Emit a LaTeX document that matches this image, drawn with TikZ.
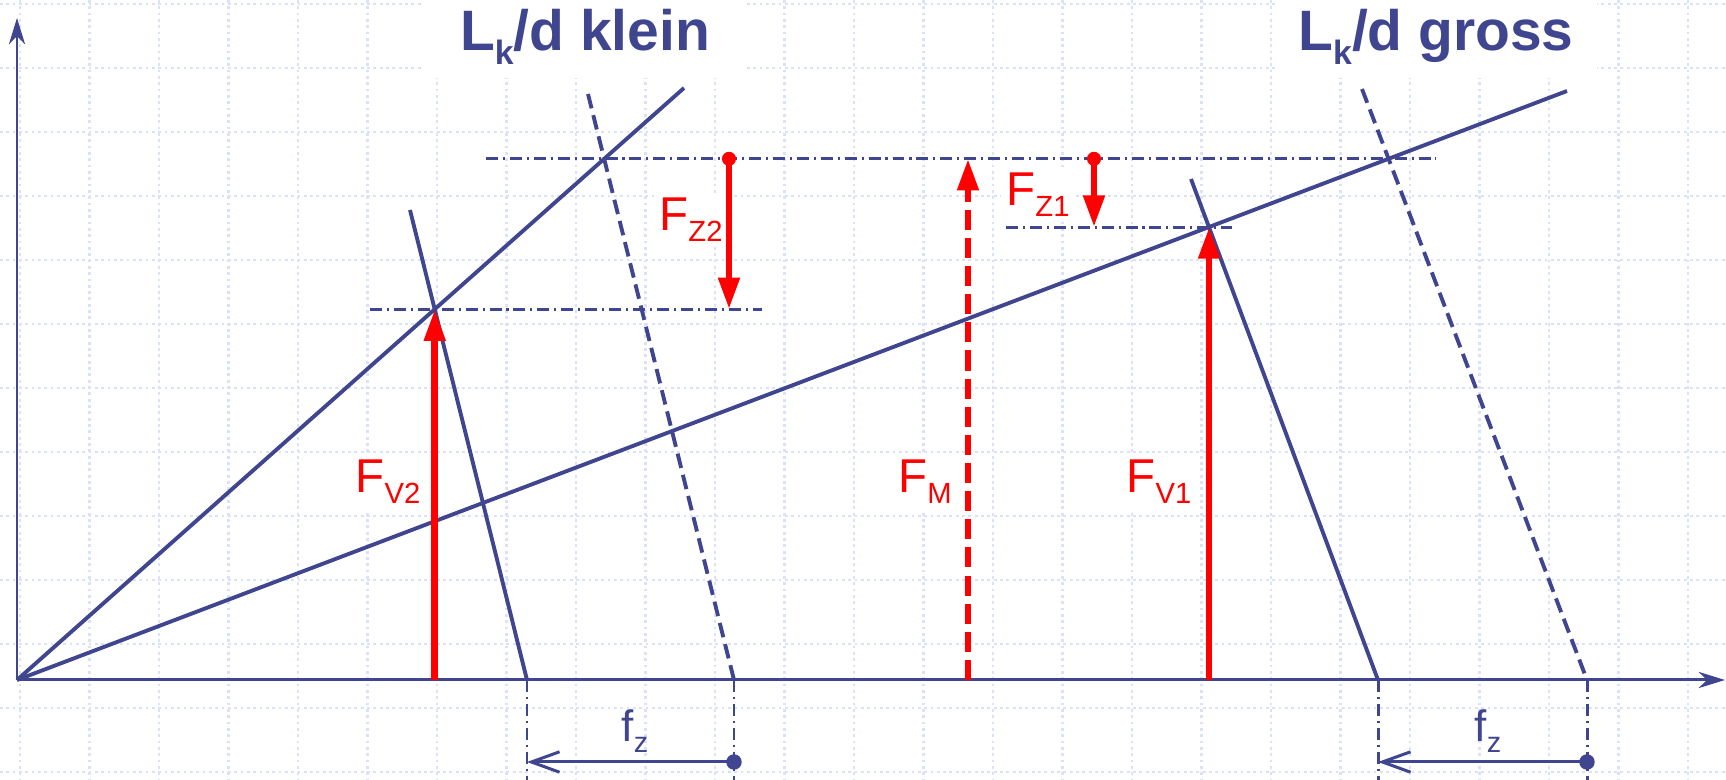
\documentclass[tikz,border=0pt]{standalone}
\usepackage{fontspec}
\setmainfont{Liberation Sans}
\usetikzlibrary{arrows.meta}
\definecolor{ink}{HTML}{40458F}
\definecolor{fred}{HTML}{FF0000}
\definecolor{gridcol}{HTML}{D9E2FA}
\newcommand{\fsub}[2]{#1\raisebox{-3.1pt}{\fontsize{8.3}{10}\selectfont #2}}
\newcommand{\fzsub}[2]{#1\raisebox{-2.85pt}{\fontsize{8.2}{10}\selectfont #2}}
\newcommand{\ksub}{\raisebox{-3.8pt}{\fontsize{9.6}{11}\selectfont k}}

\begin{document}
\begin{tikzpicture}[x=0.01cm,y=-0.01cm,>=Stealth]
 \tikzstyle{gridline}=[gridcol,line width=0.8pt,densely dotted]
 \tikzstyle{axis}=[ink,line width=0.85pt,-{Stealth[length=7.5pt,width=4.6pt,inset=2.4pt]}]
 \tikzstyle{kline}=[ink,line width=1.1pt]
 \tikzstyle{kdash}=[kline,dash pattern=on 4.2pt off 2pt]
 \tikzstyle{levelline}=[ink,line width=0.85pt,dash pattern=on 3.4pt off 1.4pt on 0.6pt off 1.4pt]
 \tikzstyle{forcearrow}=[fred,line width=1.9pt,-{Triangle[length=9pt,width=5.8pt]}]
 \tikzstyle{shiftarrow}=[ink,line width=0.85pt,-{Straight Barb[length=8pt,width=5.8pt]}]
 \tikzstyle{heading}=[anchor=base,fill=white,text=ink,font=\fontsize{16.2}{19}\selectfont\bfseries,minimum width=3.22cm,inner ysep=4pt]
 \tikzstyle{forcelbl}=[anchor=base,fill=white,text=fred,font=\fontsize{13.5}{16}\selectfont,inner sep=1.5pt]
 \tikzstyle{shiftlbl}=[anchor=base,text=ink,font=\fontsize{12.5}{15}\selectfont,inner sep=0pt]
 \fill[white] (0,0) rectangle (1726,780);
 \useasboundingbox (0,0) rectangle (1726,780);
 \foreach \i in {0,...,24} \draw[gridline] ({20+69.5*\i},0) -- ({20+69.5*\i},780);
 \foreach \j in {0,...,12} \draw[gridline] (0,{4+64*\j}) -- (1726,{4+64*\j});
 \coordinate (O) at (17,680);
 \coordinate (ytip) at (17,18);
 \coordinate (xtip) at (1725,680);
 \coordinate (kend) at (684,88);
 \coordinate (gend) at (1567,91);
 \coordinate (ksolT) at (410,210);
 \coordinate (ksolB) at (527,680);
 \coordinate (kdashT) at (588,94);
 \coordinate (kdashB) at (734,680);
 \coordinate (gsolT) at (1191,179);
 \coordinate (gsolB) at (1378,680);
 \coordinate (gdashT) at (1362,89);
 \coordinate (gdashB) at (1587,680);
 \coordinate (v2) at (intersection of O--kend and ksolT--ksolB);
 \coordinate (v1) at (intersection of O--gend and gsolT--gsolB);
 \coordinate (m) at (intersection of O--gend and gdashT--gdashB);
 \coordinate (z2) at (729,0);
 \coordinate (z1) at (1094,0);
 \coordinate (fm) at (968,0);
 \coordinate (h1a) at (486,0);
 \coordinate (h1b) at (1436,0);
 \coordinate (h2a) at (370,0);
 \coordinate (h2b) at (762,0);
 \coordinate (h3a) at (1006,0);
 \coordinate (h3b) at (1232,0);
 \coordinate (bot) at (0,780);
 \coordinate (fzrow) at (0,762);
 \node[heading] (tklein) at (585,51) {L\ksub/d klein};
 \node[heading] (tgross) at (1436,51) {L\ksub/d gross};
 \node[forcelbl] (lfz2) at (691,231) {\fsub{F}{Z2}};
 \node[forcelbl] (lfz1) at (1038,206) {\fsub{F}{Z1}};
 \node[forcelbl] (lfv2) at (388,493) {\fsub{F}{V2}};
 \node[forcelbl] (lfm) at (925,493) {\fsub{F}{M}};
 \node[forcelbl] (lfv1) at (1159,493) {\fsub{F}{V1}};
 \node[shiftlbl] (lfzk) at (635,742) {\fzsub{f}{z}};
 \node[shiftlbl] (lfzg) at (1488,742) {\fzsub{f}{z}};
 \draw[axis] (O) -- (ytip);
 \draw[axis] (O) -- (xtip);
 \draw[kline] (O) -- (kend);
 \draw[kline] (O) -- (gend);
 \draw[kline] (ksolT) -- (ksolB);
 \draw[kline] (gsolT) -- (gsolB);
 \draw[kdash] (kdashT) -- (kdashB);
 \draw[kdash] (gdashT) -- (gdashB);
 \draw[levelline] (h1a |- m) -- (h1b |- m);
 \draw[levelline] (h2a |- v2) -- (h2b |- v2);
 \draw[levelline] (h3a |- v1) -- (h3b |- v1);
 \draw[levelline] (ksolB) -- (ksolB |- bot);
 \draw[levelline] (kdashB) -- (kdashB |- bot);
 \draw[levelline] (gsolB) -- (gsolB |- bot);
 \draw[levelline] (gdashB) -- (gdashB |- bot);
 \draw[forcearrow] (v2 |- O) -- (v2);
 \draw[forcearrow] (v1 |- O) -- (v1);
 \draw[forcearrow,dash pattern=on 5.7pt off 2.3pt] (fm |- O) -- (fm |- m);
 \draw[forcearrow] (z2 |- m) -- (z2 |- v2);
 \fill[fred] (z2 |- m) circle[radius=2pt];
 \draw[forcearrow] (z1 |- m) -- (z1 |- v1);
 \fill[fred] (z1 |- m) circle[radius=2pt];
 \draw[shiftarrow] (kdashB |- fzrow) -- (ksolB |- fzrow);
 \fill[ink] (kdashB |- fzrow) circle[radius=2.2pt];
 \draw[shiftarrow] (gdashB |- fzrow) -- (gsolB |- fzrow);
 \fill[ink] (gdashB |- fzrow) circle[radius=2.2pt];
\end{tikzpicture}
\end{document}
